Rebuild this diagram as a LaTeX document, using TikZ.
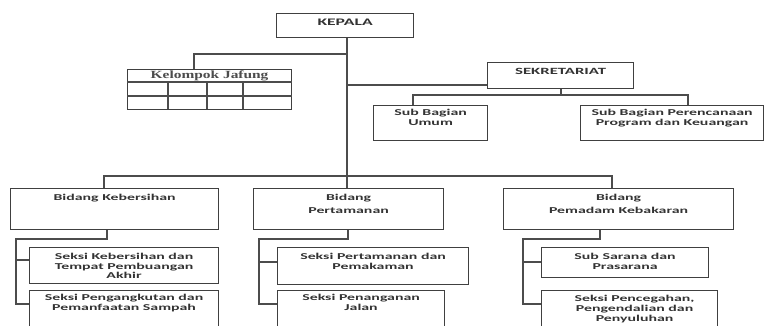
\documentclass[tikz,border=0pt]{standalone}
\usepackage{fontspec}
\newfontfamily\orgfont{Carlito}[FakeStretch=1.76]
\newfontfamily\tblfont{Liberation Serif}[FakeStretch=1.4]
\begin{document}
\begin{tikzpicture}[x=1pt,y=-1pt,
  box/.style={draw=black!75,line width=1.15pt,rectangle,inner sep=0pt,anchor=north west},
  txt/.style={anchor=north,align=center,inner sep=0pt,text=black!80,font=\orgfont\bfseries\fontsize{9}{10.3}\selectfont},
  ln/.style={draw=black!70,line width=1.15pt}]
\useasboundingbox (0,0) rectangle (766,326);
\clip (0,0) rectangle (766,326);
\fill[white] (0,0) rectangle (766,326);
% boxes
\node[box,minimum width=137pt,minimum height=24pt] (kepala) at (276,13) {};
\node[box,minimum width=164pt,minimum height=40pt] (kel) at (127,69) {};
\node[box,minimum width=146pt,minimum height=26pt] (sek) at (487,62) {};
\node[box,minimum width=114pt,minimum height=35pt] (umum) at (373,105) {};
\node[box,minimum width=183pt,minimum height=35pt] (pren) at (580,105) {};
\node[box,minimum width=208pt,minimum height=41pt] (bk) at (10,188) {};
\node[box,minimum width=190pt,minimum height=41pt] (bp) at (253,188) {};
\node[box,minimum width=230pt,minimum height=41pt] (bm) at (503,188) {};
\node[box,minimum width=189pt,minimum height=36pt] (sk1) at (29,247) {};
\node[box,minimum width=189pt,minimum height=50pt] (sk2) at (29,290) {};
\node[box,minimum width=191pt,minimum height=37pt] (sp1) at (277,247) {};
\node[box,minimum width=167pt,minimum height=50pt] (sp2) at (277,290) {};
\node[box,minimum width=167pt,minimum height=30pt] (sm1) at (541,247) {};
\node[box,minimum width=176pt,minimum height=50pt] (sm2) at (541,290) {};
% table grid
\draw[ln] (kel.west |- 0,82) -- (kel.east |- 0,82);
\draw[ln] (kel.west |- 0,96) -- (kel.east |- 0,96);
\foreach \cx in {168,207,243} \draw[ln] (\cx,82) -- (\cx,109);
% texts
\node[txt,font=\orgfont\bfseries\fontsize{10}{12}\selectfont] (tkep) at ([yshift=-6pt]kepala.north) {KEPALA};
\node[anchor=north,inner sep=0pt,text=black!70,font=\tblfont\bfseries\fontsize{11}{12}\selectfont] (tkel) at ([yshift=-1.5pt]kel.north) {Kelompok Jafung};
\node[txt,font=\orgfont\bfseries\fontsize{9.5}{11}\selectfont] (tsek) at ([yshift=-6pt]sek.north) {SEKRETARIAT};
\node[txt] (tumum) at ([yshift=-4pt]umum.north) {Sub Bagian\\Umum};
\node[txt] (tpren) at ([yshift=-4pt]pren.north) {Sub Bagian Perencanaan\\Program dan Keuangan};
\node[txt] (tbk) at ([yshift=-6pt]bk.north) {Bidang Kebersihan};
\node[txt,font=\orgfont\bfseries\fontsize{9}{13}\selectfont] (tbp) at ([yshift=-6pt]bp.north) {Bidang\\Pertamanan};
\node[txt,font=\orgfont\bfseries\fontsize{9}{13}\selectfont] (tbm) at ([yshift=-6pt]bm.north) {Bidang\\Pemadam Kebakaran};
\node[txt,font=\orgfont\bfseries\fontsize{9}{9.6}\selectfont] (tsk1) at ([yshift=-6pt]sk1.north) {Seksi Kebersihan dan\\Tempat Pembuangan\\Akhir};
\node[txt] (tsk2) at ([yshift=-4pt]sk2.north) {Seksi Pengangkutan dan\\Pemanfaatan Sampah};
\node[txt] (tsp1) at ([yshift=-6pt]sp1.north) {Seksi Pertamanan dan\\Pemakaman};
\node[txt] (tsp2) at ([yshift=-4pt]sp2.north) {Seksi Penanganan\\Jalan};
\node[txt] (tsm1) at ([yshift=-6pt]sm1.north) {Sub Sarana dan\\Prasarana};
\node[txt,font=\orgfont\bfseries\fontsize{9}{10}\selectfont,xshift=5pt] (tsm2) at ([yshift=-5pt]sm2.north) {Seksi Pencegahan,\\Pengendalian dan\\Penyuluhan};
% connectors
\coordinate (hub) at (347,176);
\coordinate (jk) at (347,54);
\coordinate (js) at (347,85);
\draw[ln] (kepala.south -| hub) -- (hub);
\draw[ln] (jk) -| (194,69);
\draw[ln] (js) -- (sek.west |- js);
\draw[ln] (sek.south -| 561,0) -- (561,95) coordinate (sj);
\draw[ln] (umum.north -| 413,0) |- (sj) -| (pren.north -| 688,0);
\draw[ln] (bk.north -| 104,0) |- (hub) -| (bm.north -| 612,0);
\draw[ln] (hub) -- (bp.north -| hub);
% sub branches
\draw[ln] (bk.south -| 107,0) -- (107,239) -| (16,304) -- (sk2.west |- 0,304);
\draw[ln] (16,260) -- (sk1.west |- 0,260);
\draw[ln] (bp.south -| 348,0) -- (348,239) -| (259,304) -- (sp2.west |- 0,304);
\draw[ln] (259,262) -- (sp1.west |- 0,262);
\draw[ln] (bm.south -| 600,0) -- (600,239) -| (523,304) -- (sm2.west |- 0,304);
\draw[ln] (523,262) -- (sm1.west |- 0,262);
\end{tikzpicture}
\end{document}
